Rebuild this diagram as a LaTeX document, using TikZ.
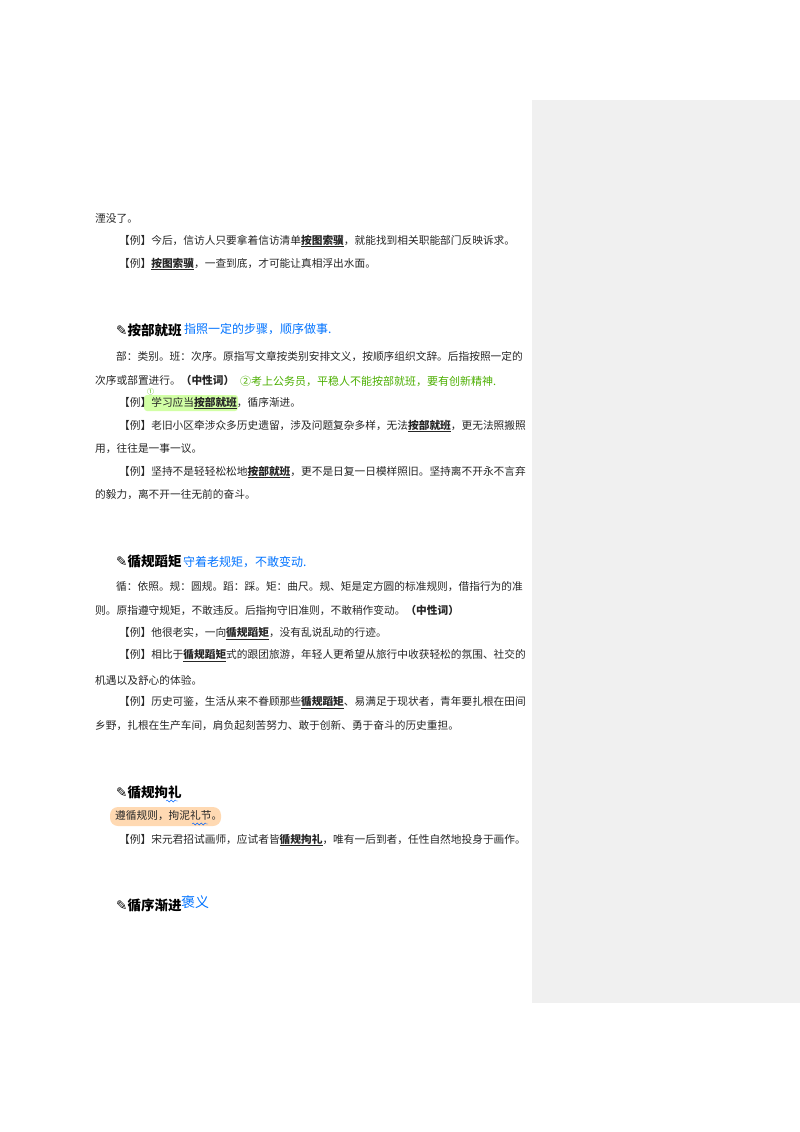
\documentclass[tikz,border=0pt]{standalone}
\usepackage{fontspec}
\newfontfamily\cjk{Noto Sans CJK SC}
\newfontfamily\djv{DejaVu Sans}
\usetikzlibrary{decorations.pathmorphing}
\tikzset{
 body/.style={anchor=west,inner sep=0pt,font=\cjk\fontsize{10.7}{12}\selectfont,text=black!85},
 head/.style={anchor=west,inner sep=0pt,font=\cjk\bfseries\fontsize{13.5}{15}\selectfont},
 blue/.style={anchor=west,inner sep=0pt,font=\cjk\fontsize{12}{13}\selectfont\itshape,text=blue!55!cyan},
 green/.style={anchor=west,inner sep=0pt,font=\cjk\fontsize{11}{13}\selectfont,text=green!55!black!70!yellow},
 wav/.style={blue!60!cyan,decorate,decoration={snake,amplitude=1pt,segment length=4pt}}
}
\newcommand{\kw}[1]{\textbf{\underline{#1}}}
\newcommand{\pen}{{\djv ✎}}
\begin{document}
\begin{tikzpicture}[x=1pt,y=-1pt]
\useasboundingbox (0,0) rectangle (800,1132);
\fill[white] (0,0) rectangle (800,1132);
\fill[black!6] (532,100) rectangle (800,1003);
\fill[green!50!yellow!35, rounded corners=3pt] (144,395) rectangle (238,411);
\fill[orange!30, rounded corners=8pt] (110,807) rectangle (221,826);
\node[body] (a1) at (95,218) {湮没了。};
\node[body] (a2) at (119,241) {【例】今后，信访人只要拿着信访清单\kw{按图索骥}，就能找到相关职能部门反映诉求。};
\node[body] (a3) at (119,264) {【例】\kw{按图索骥}，一查到底，才可能让真相浮出水面。};
\node[head] (h1) at (116,330) {\pen 按部就班};
\node[blue] (n1) at (184,329) {指照一定的步骤，顺序做事.};
\node[body] (b1) at (116,356) {部：类别。班：次序。原指写文章按类别安排文义，按顺序组织文辞。后指按照一定的};
\node[body] (b2) at (95,380) {次序或部置进行。\textbf{（中性词）}};
\node[green] (n2) at (240,381) {②考上公务员，平稳人不能按部就班，要有创新精神.};
\node[green,font=\cjk\fontsize{7}{8}\selectfont] (n3) at (147,392) {①};
\node[body] (b3) at (119,403) {【例】学习应当\kw{按部就班}，循序渐进。};
\node[body] (b4) at (119,426) {【例】老旧小区牵涉众多历史遗留，涉及问题复杂多样，无法\kw{按部就班}，更无法照搬照};
\node[body] (b5) at (95,449) {用，往往是一事一议。};
\node[body] (b6) at (119,472) {【例】坚持不是轻轻松松地\kw{按部就班}，更不是日复一日模样照旧。坚持离不开永不言弃};
\node[body] (b7) at (95,495) {的毅力，离不开一往无前的奋斗。};
\node[head] (h2) at (116,561) {\pen 循规蹈矩};
\node[blue] (n4) at (183,562) {守着老规矩，不敢变动.};
\node[body] (c1) at (116,587) {循：依照。规：圆规。蹈：踩。矩：曲尺。规、矩是定方圆的标准规则，借指行为的准};
\node[body] (c2) at (95,610) {则。原指遵守规矩，不敢违反。后指拘守旧准则，不敢稍作变动。\textbf{（中性词）}};
\node[body] (c3) at (119,634) {【例】他很老实，一向\kw{循规蹈矩}，没有乱说乱动的行迹。};
\node[body] (c4) at (119,656) {【例】相比于\kw{循规蹈矩}式的跟团旅游，年轻人更希望从旅行中收获轻松的氛围、社交的};
\node[body] (c5) at (95,680) {机遇以及舒心的体验。};
\node[body] (c6) at (119,703) {【例】历史可鉴，生活从来不眷顾那些\kw{循规蹈矩}、易满足于现状者，青年要扎根在田间};
\node[body] (c7) at (95,726) {乡野，扎根在生产车间，肩负起刻苦努力、敢于创新、勇于奋斗的历史重担。};
\node[head] (h3) at (116,792) {\pen 循规拘礼};
\draw[wav] (166,801) -- (178,801);
\node[body] (d1) at (115,816) {遵循规则，拘泥礼节。};
\draw[wav] (192,824) -- (208,824);
\node[body] (d2) at (119,840) {【例】宋元君招试画师，应试者皆\kw{循规拘礼}，唯有一后到者，任性自然地投身于画作。};
\node[head] (h4) at (116,905) {\pen 循序渐进};
\node[blue,font=\cjk\fontsize{14}{15}\selectfont] (n5) at (181,902) {褒义};
\end{tikzpicture}
\end{document}
